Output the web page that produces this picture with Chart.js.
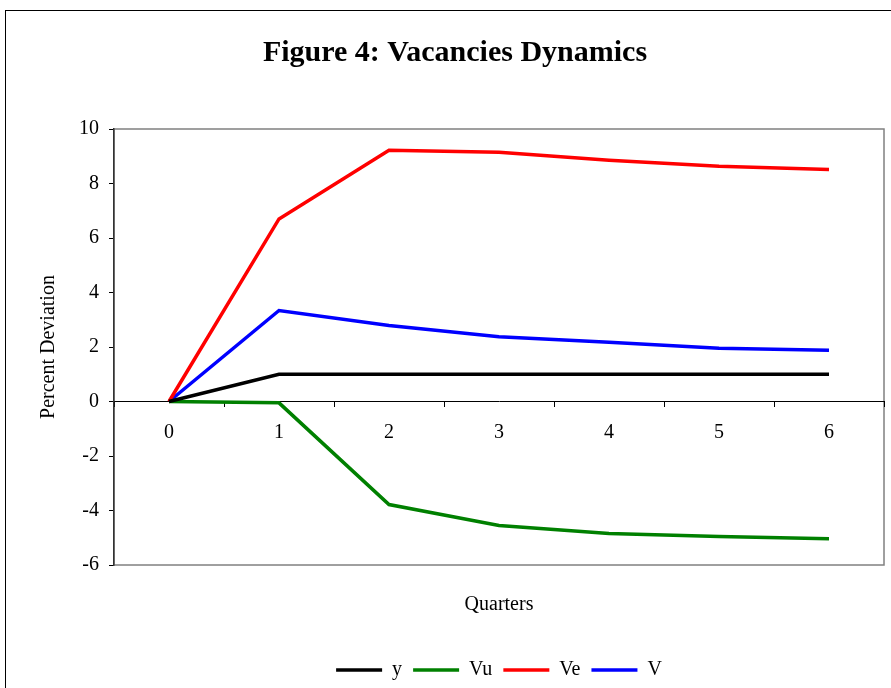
<!DOCTYPE html>
<html>
<head>
<meta charset="utf-8">
<script src="https://cdn.jsdelivr.net/npm/chart.js@4/dist/chart.umd.min.js"></script>
<style>
    html, body { margin: 0; padding: 0; background: #fff; overflow: hidden; }
    #frame { position: absolute; left: 5px; top: 10px; width: 1000px; height: 1000px; border: 1px solid #000; }
    #chart { position: absolute; left: 0; top: 0; }
</style>
</head>
<body>
<div id="frame"></div>
<canvas id="chart" width="891" height="688"></canvas>
<script>
const quarters = ['0', '1', '2', '3', '4', '5', '6'];
const ySeries = [0, 1.0, 1.0, 1.0, 1.0, 1.0, 1.0];
const vuSeries = [0, -0.05, -3.78, -4.55, -4.84, -4.95, -5.04];
const veSeries = [0, 6.70, 9.22, 9.15, 8.85, 8.63, 8.51];
const vSeries = [0, 3.34, 2.79, 2.38, 2.17, 1.95, 1.88];
const yTicks = [-6, -4, -2, 0, 2, 4, 6, 8, 10];

const serif = 'Liberation Serif';

// grey frame round the plot area, drawn before the axes
const plotBorder = {
    id: 'plotBorder',
    beforeDraw(chart) {
        const { ctx, chartArea } = chart;
        ctx.save();
        ctx.strokeStyle = '#808080';
        ctx.lineWidth = 1.5;
        ctx.strokeRect(chartArea.left, chartArea.top, chartArea.right - chartArea.left, chartArea.bottom - chartArea.top);
        ctx.restore();
    }
};

function line(label, data, color) {
    return {
        label: label,
        data: data,
        borderColor: color,
        backgroundColor: color,
        borderWidth: 3.5,
        pointRadius: 0,
        tension: 0,
        fill: false
    };
}

new Chart(document.getElementById('chart'), {
    type: 'line',
    data: {
        labels: quarters,
        datasets: [
            line('y', ySeries, '#000000'),
            line('Vu', vuSeries, '#008000'),
            line('Ve', veSeries, '#ff0000'),
            line('V', vSeries, '#0000ff')
        ]
    },
    options: {
        responsive: false,
        animation: false,
        devicePixelRatio: 1,
        layout: { padding: { left: 26, right: 7, top: 10, bottom: -2 } },
        plugins: {
            title: {
                display: true,
                text: 'Figure 4: Vacancies Dynamics',
                color: '#000',
                font: { family: serif, size: 30, weight: 'bold' },
                padding: { top: 25, bottom: 58 }
            },
            legend: {
                display: true,
                position: 'bottom',
                fullSize: false,
                labels: {
                    usePointStyle: true,
                    pointStyle: 'line',
                    pointStyleWidth: 46,
                    color: '#000',
                    padding: 11,
                    font: { family: serif, size: 20 }
                }
            },
            tooltip: { enabled: false }
        },
        scales: {
            x: {
                type: 'category',
                position: { y: 0 },
                offset: true,
                grid: { offset: true, drawOnChartArea: false, drawTicks: true, tickLength: 5, color: '#000' },
                border: { display: true, color: '#000', width: 1 },
                ticks: { color: '#000', padding: 14, font: { family: serif, size: 20 } }
            },
            x2: {
                type: 'category',
                position: 'bottom',
                grid: { display: false },
                border: { display: false },
                ticks: { display: false },
                title: {
                    display: true,
                    text: 'Quarters',
                    color: '#000',
                    font: { family: serif, size: 20 },
                    padding: { top: 20, bottom: 32 }
                }
            },
            y: {
                min: -6,
                max: 10,
                afterBuildTicks(scale) {
                    scale.ticks = yTicks.map(v => ({ value: v }));
                },
                grid: { drawOnChartArea: false, drawTicks: true, tickLength: 5, color: '#000' },
                border: { display: true, color: '#333', width: 1.5 },
                ticks: { color: '#000', padding: 10, font: { family: serif, size: 20 } },
                title: {
                    display: true,
                    text: 'Percent Deviation',
                    color: '#000',
                    font: { family: serif, size: 20 },
                    padding: { top: 11, bottom: 8 }
                }
            }
        }
    },
    plugins: [plotBorder]
});
</script>
</body>
</html>
